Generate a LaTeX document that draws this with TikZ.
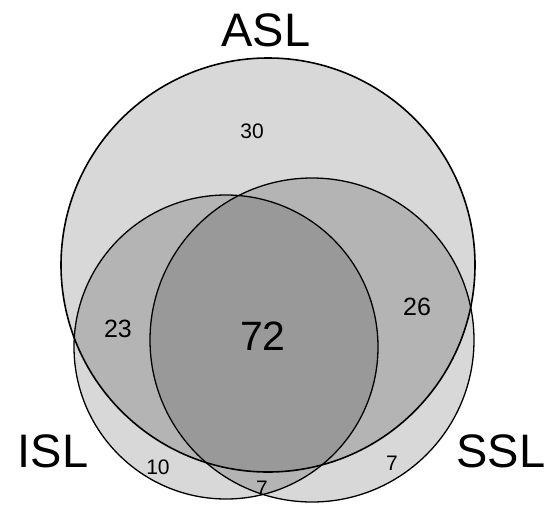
\documentclass[tikz,border=0pt]{standalone}
\usepackage{fontspec}
\setmainfont{Liberation Sans}
\definecolor{one}{RGB}{216,216,216}
\definecolor{two}{RGB}{180,180,180}
\definecolor{three}{RGB}{153,153,153}
\tikzset{
  setlabel/.style={inner sep=0pt, font=\fontsize{47}{47}\selectfont},
  bignum/.style={inner sep=0pt, font=\fontsize{41}{41}\selectfont},
  midnum/.style={inner sep=0pt, font=\fontsize{25}{25}\selectfont},
  smallnum/.style={inner sep=0pt, font=\fontsize{21}{21}\selectfont},
  outline/.style={draw=black, line width=1.3pt}
}
\newcommand{\aslpath}{(268,265) circle[radius=207pt]}
\newcommand{\islpath}{(226,347) circle[radius=152pt]}
\newcommand{\sslpath}{(312,340) circle[radius=162pt]}
\begin{document}
\begin{tikzpicture}[x=1pt,y=-1pt]
\useasboundingbox (0,0) rectangle (545,506);
\fill[white] (0,0) rectangle (545,506);
% single regions
\fill[one] \aslpath;
\fill[one] \islpath;
\fill[one] \sslpath;
% double overlaps
\begin{scope}
  \clip \aslpath;
  \fill[two] \islpath;
  \fill[two] \sslpath;
\end{scope}
\begin{scope}
  \clip \islpath;
  \fill[two] \sslpath;
\end{scope}
% triple overlap
\begin{scope}
  \clip \aslpath;
  \clip \islpath;
  \fill[three] \sslpath;
\end{scope}
% outlines
\draw[outline] \islpath;
\draw[outline] \sslpath;
\draw[outline, line width=1.6pt] \aslpath;
% set labels
\node[setlabel] (asl) at (266,30) {ASL};
\node[setlabel] (isl) at (53,451) {ISL};
\node[setlabel] (ssl) at (501,451) {SSL};
% counts
\node[smallnum] (n30) at (252,131) {30};
\node[midnum] (n23) at (118,329) {23};
\node[midnum] (n26) at (417,307) {26};
\node[bignum] (n72) at (263,336) {72};
\node[smallnum] (n10) at (158,467) {10};
\node[smallnum] (n7r) at (392,463) {7};
\node[smallnum] (n7b) at (262,488) {7};
\end{tikzpicture}
\end{document}
